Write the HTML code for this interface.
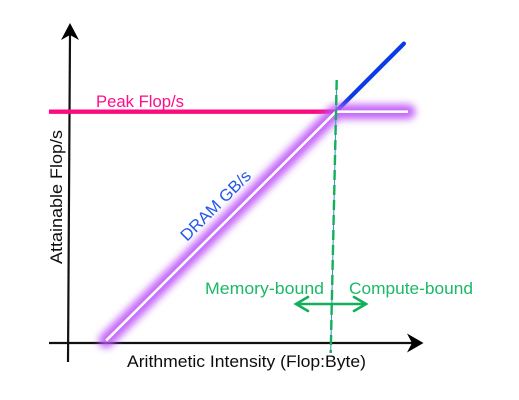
<!DOCTYPE html>
<html lang="en">
<head>
<meta charset="utf-8">
<title>Roofline model chart</title>
<style>
html,body{margin:0;padding:0;background:#fff;width:519px;height:400px;overflow:hidden}
svg{display:block}
text{font-family:"Liberation Sans",sans-serif;font-size:16.5px}
</style>
</head>
<body>
<svg id="chart" width="519" height="400" viewBox="0 0 519 400" xmlns="http://www.w3.org/2000/svg">
  <defs>
    <filter id="glow" filterUnits="userSpaceOnUse" x="60" y="70" width="390" height="310"><feGaussianBlur stdDeviation="3.6"/></filter>
    <filter id="soft" filterUnits="userSpaceOnUse" x="0" y="0" width="519" height="400"><feGaussianBlur stdDeviation="0.35"/></filter>
  </defs>
  <g id="marks"></g>
  <g filter="url(#soft)">
    <text x="96" y="107" fill="#ff0d8c" textLength="88" lengthAdjust="spacingAndGlyphs">Peak Flop/s</text>
    <text transform="translate(62 264) rotate(-90)" fill="#111" textLength="134" lengthAdjust="spacingAndGlyphs">Attainable Flop/s</text>
    <text x="127" y="367" fill="#111" textLength="239" lengthAdjust="spacingAndGlyphs">Arithmetic Intensity (Flop:Byte)</text>
    <text transform="translate(187 242) rotate(-45)" fill="#2458ea" textLength="92" lengthAdjust="spacingAndGlyphs">DRAM GB/s</text>
    <text x="205" y="294" fill="#1cb866" textLength="119" lengthAdjust="spacingAndGlyphs">Memory-bound</text>
    <text x="349" y="294" fill="#1cb866" textLength="124" lengthAdjust="spacingAndGlyphs">Compute-bound</text>
  </g>
</svg>
<script>
// Arithmetic intensity (x) and attainable Flop/s (y), in relative units
const peakX = [-0.56, 7.88];
const peakY = [10, 10];
const roofX = [1.12, 7.88, 10];
const roofY = [0.09, 10, 10];
const computeX = [7.88, 9.88];
const computeY = [10, 12.95];

function xAxis(v) { return 68 + v * 34; }
function yAxis(v) { return 342.7 - v * 23.1; }

const NS = 'http://www.w3.org/2000/svg';
const marks = document.getElementById('marks');

function pathFrom(xs, ys) {
  return xs.map(function (x, i) {
    return (i ? 'L' : 'M') + xAxis(x).toFixed(1) + ' ' + yAxis(ys[i]).toFixed(1);
  }).join(' ');
}
function make(tag, attrs, parent) {
  const el = document.createElementNS(NS, tag);
  Object.keys(attrs).forEach(function (k) { el.setAttribute(k, attrs[k]); });
  (parent || marks).appendChild(el);
  return el;
}

// Axes
const xLine = make('line', {x1: 49, y1: 343, x2: 414, y2: 343, stroke: '#111', 'stroke-width': 2.2});


const xHead = make('path', {d: 'M423.5 343 L407 333.5 L412 343 L407 352.5 Z', fill: '#000'});


const yLine = make('line', {x1: 68, y1: 362, x2: 70, y2: 34, stroke: '#111', 'stroke-width': 2.2});


const yHead = make('path', {d: 'M70 23 L61 40 L70 35 L79 40 Z', fill: '#000'});



// Compute-bound continuation
const compute = make('path', {d: pathFrom(computeX, computeY), fill: 'none', stroke: '#0b3be8', 'stroke-width': 4.2, 'stroke-linecap': 'round'});



// Peak Flop/s
const peak = make('path', {d: pathFrom(peakX, peakY), fill: 'none', stroke: '#fb0a80', 'stroke-width': 4.4});



// Roofline glow + white core
const glow = make('path', {d: pathFrom(roofX, roofY), fill: 'none', stroke: '#bd55f8', 'stroke-width': 15, 'stroke-linecap': 'round', 'stroke-linejoin': 'round', filter: 'url(#glow)', opacity: 0.9});


const core = make('path', {d: pathFrom(roofX, roofY), fill: 'none', stroke: '#fff', 'stroke-width': 2.6, 'stroke-linejoin': 'miter'});



// Crossover divider
const thin = make('line', {x1: 336.7, y1: 80, x2: 330.7, y2: 353, stroke: '#3f8fc8', 'stroke-width': 1});


const dash = make('line', {x1: 336.7, y1: 80, x2: 330.7, y2: 353, stroke: '#12b05a', 'stroke-width': 2.4, 'stroke-dasharray': '10 5'});



// Memory / compute double arrow
const dbl = make('line', {x1: 298, y1: 304, x2: 364, y2: 304, stroke: '#12b05a', 'stroke-width': 2.4});


const headL = make('path', {d: 'M308 297 L296 304 L308 311', fill: 'none', stroke: '#12b05a', 'stroke-width': 2.6, 'stroke-linecap': 'round'});


const headR = make('path', {d: 'M354 297 L366 304 L354 311', fill: 'none', stroke: '#12b05a', 'stroke-width': 2.6, 'stroke-linecap': 'round'});


</script>
</body>
</html>
